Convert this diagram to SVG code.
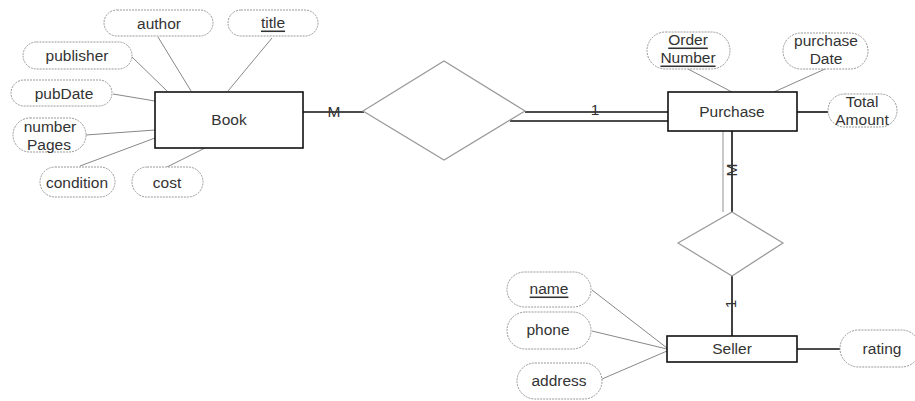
<svg xmlns="http://www.w3.org/2000/svg" width="915" height="401" viewBox="0 0 915 401">
<style>
text{font-family:"Liberation Sans",Arial,sans-serif;font-size:15.5px;fill:#333;text-anchor:middle;dominant-baseline:central}
.ent{fill:#fff;stroke:#111;stroke-width:1.6}
.rel{fill:#fff;stroke:#999;stroke-width:1.2}
.att{fill:#fff;stroke:#999;stroke-width:1;stroke-dasharray:2 1}
.al{stroke:#888;stroke-width:1;fill:none}
.el{stroke:#111;stroke-width:1.6;fill:none}
.u{text-decoration:underline}
</style>
<rect width="915" height="401" fill="#fff"/>
<g id="connectors">
<line class="al" x1="132" y1="57" x2="167" y2="91"/>
<line class="al" x1="158" y1="37" x2="191" y2="91"/>
<line class="al" x1="272" y1="38" x2="228" y2="91"/>
<line class="al" x1="113" y1="94" x2="155" y2="101"/>
<line class="al" x1="86" y1="135" x2="155" y2="130"/>
<line class="al" x1="80" y1="166" x2="155" y2="138"/>
<line class="al" x1="167" y1="167" x2="205" y2="148"/>
<line class="el" x1="303" y1="112" x2="364" y2="112"/>
<line class="el" x1="525" y1="112" x2="668" y2="112"/>
<line class="el" x1="510" y1="121" x2="668" y2="121"/>
<line class="al" x1="688" y1="69" x2="732" y2="92"/>
<line class="al" x1="825" y1="69" x2="774" y2="92"/>
<line class="el" x1="797" y1="112" x2="828" y2="112"/>
<line stroke="#bbb" stroke-width="1.6" x1="723" y1="131" x2="723" y2="212"/>
<line class="el" x1="732" y1="131" x2="732" y2="212"/>
<line class="el" x1="732" y1="276" x2="732" y2="336"/>
<line class="el" x1="797" y1="349" x2="840" y2="349"/>
<line class="al" x1="592" y1="290" x2="667" y2="348"/>
<line class="al" x1="592" y1="331" x2="667" y2="349"/>
<line class="al" x1="602" y1="379" x2="667" y2="351"/>
<text x="334" y="111">M</text>
<text x="595" y="109">1</text>
<text transform="translate(731 170) rotate(-90)">M</text>
<text transform="translate(730 304) rotate(-90)">1</text>
</g>
<g id="book"><rect class="ent" x="155" y="92" width="148" height="56"/><text x="229" y="119">Book</text></g>
<g id="purchase"><rect class="ent" x="668" y="92" width="129" height="39"/><text x="732" y="111">Purchase</text></g>
<g id="seller"><rect class="ent" x="667" y="336" width="130" height="26"/><text x="732" y="348">Seller</text></g>
<g id="rel1"><polygon class="rel" points="363,111 444,61 525,111 444,160"/></g>
<g id="rel2"><polygon class="rel" points="732,212 783,243 732,276 678,243"/></g>
<g id="author"><rect class="att" x="104" y="10" width="109" height="26" rx="13"/><text x="159" y="23">author</text></g>
<g id="title"><rect class="att" x="228" y="10" width="90" height="26" rx="13"/><text class="u" x="273" y="22">title</text></g>
<g id="publisher"><rect class="att" x="23" y="42" width="109" height="27" rx="13.5"/><text x="77" y="55">publisher</text></g>
<g id="pubDate"><rect class="att" x="11" y="80" width="101" height="26" rx="13"/><text x="64" y="93">pubDate</text></g>
<g id="numberPages"><rect class="att" x="13" y="118" width="73" height="34" rx="17"/><text x="50" y="126">number</text><text x="49" y="144">Pages</text></g>
<g id="condition"><rect class="att" x="40" y="167" width="75" height="30" rx="15"/><text x="77" y="182">condition</text></g>
<g id="cost"><rect class="att" x="132" y="167" width="71" height="30" rx="15"/><text x="167" y="182">cost</text></g>
<g id="orderNumber"><rect class="att" x="647" y="32" width="83" height="37" rx="18.5"/><text class="u" x="688" y="39">Order</text><text class="u" x="688" y="57">Number</text></g>
<g id="purchaseDate"><rect class="att" x="783" y="33" width="85" height="36" rx="18"/><text x="826" y="40">purchase</text><text x="826" y="58">Date</text></g>
<g id="totalAmount"><rect class="att" x="828" y="94" width="69" height="33" rx="16.5"/><text x="862" y="101">Total</text><text x="862" y="119">Amount</text></g>
<g id="name"><rect class="att" x="507" y="272" width="84" height="35" rx="17.5"/><text class="u" x="549" y="288">name</text></g>
<g id="phone"><rect class="att" x="507" y="312" width="84" height="37" rx="18.5"/><text x="548" y="329">phone</text></g>
<g id="address"><rect class="att" x="517" y="363" width="85" height="36" rx="18"/><text x="559" y="380">address</text></g>
<g id="rating"><rect class="att" x="840" y="330" width="80" height="37" rx="18.5"/><text x="882" y="348">rating</text></g>
</svg>
